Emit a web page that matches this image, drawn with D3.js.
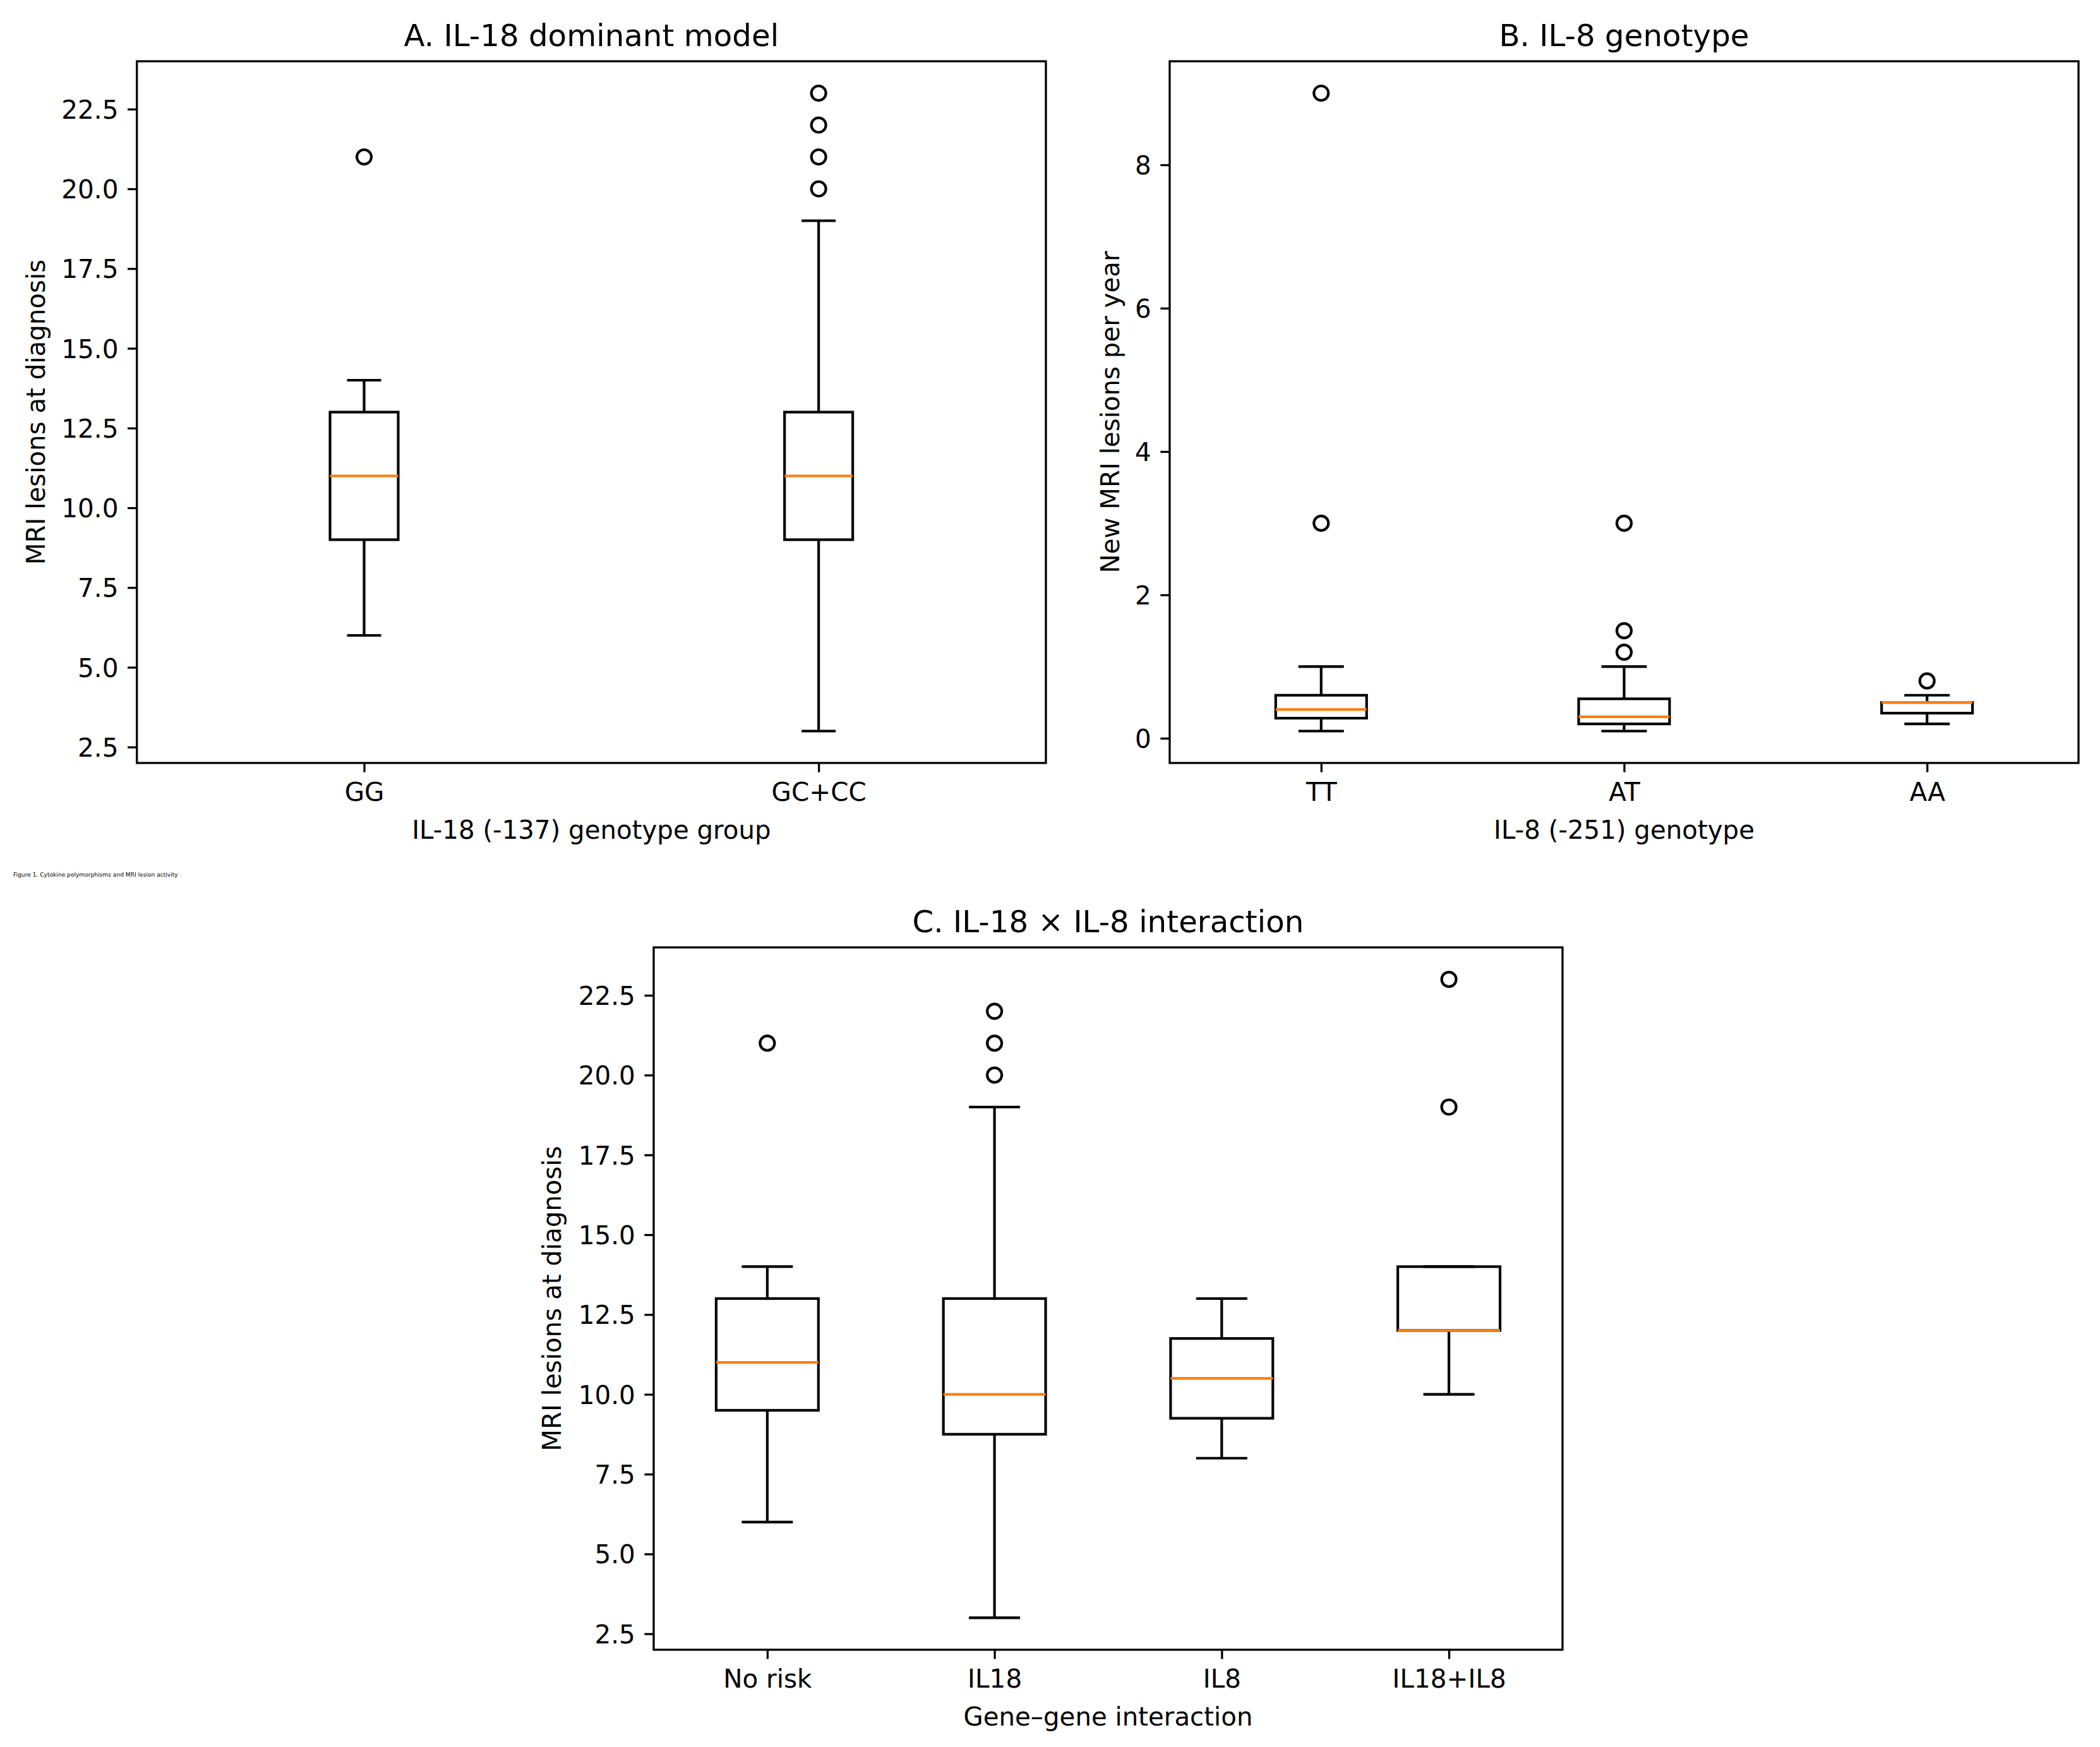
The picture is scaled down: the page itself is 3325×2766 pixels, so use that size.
<!DOCTYPE html>
<html>
<head>
<meta charset="utf-8">
<script src="https://cdn.jsdelivr.net/npm/d3@7"></script>
<style>
  html, body { margin: 0; padding: 0; background: #ffffff; }
  svg { display: block; }
</style>
</head>
<body>
<svg id="chart" width="3325" height="2766"></svg>
<script>
// ---------------- DATA ----------------
// Panel A: IL-18 dominant model
const aCategories   = ["GG", "GC+CC"];
const aWhiskerLow   = [6, 3];
const aQ1           = [9, 9];
const aMedian       = [11, 11];
const aQ3           = [13, 13];
const aWhiskerHigh  = [14, 19];
const aOutliers     = [[21], [20, 21, 22, 23]];
const aYTicks       = [2.5, 5.0, 7.5, 10.0, 12.5, 15.0, 17.5, 20.0, 22.5];

// Panel B: IL-8 genotype
const bCategories   = ["TT", "AT", "AA"];
const bWhiskerLow   = [0.1, 0.1, 0.2];
const bQ1           = [0.28, 0.2, 0.35];
const bMedian       = [0.4, 0.3, 0.5];
const bQ3           = [0.6, 0.55, 0.5];
const bWhiskerHigh  = [1.0, 1.0, 0.6];
const bOutliers     = [[3, 9], [1.2, 1.5, 3], [0.8]];
const bYTicks       = [0, 2, 4, 6, 8];

// Panel C: IL-18 x IL-8 interaction
const cCategories   = ["No risk", "IL18", "IL8", "IL18+IL8"];
const cWhiskerLow   = [6, 3, 8, 10];
const cQ1           = [9.5, 8.75, 9.25, 12];
const cMedian       = [11, 10, 10.5, 12];
const cQ3           = [13, 13, 11.75, 14];
const cWhiskerHigh  = [14, 19, 13, 14];
const cOutliers     = [[21], [20, 21, 22], [], [19, 23]];
const cYTicks       = [2.5, 5.0, 7.5, 10.0, 12.5, 15.0, 17.5, 20.0, 22.5];

const footnote = "Figure 1. Cytokine polymorphisms and MRI lesion activity";

// ---------------- STYLE / LAYOUT ----------------
const FONT = "'DejaVu Sans', 'Liberation Sans', sans-serif";
const TICK_FS = 40.5, LABEL_FS = 40.3, TITLE_FS = 48.3;
const SPINE_W = 3.3, LINE_W = 4.17;
const MEDIAN_COLOR = "#ff7f0e";

const svg = d3.select("#chart");
svg.append("rect").attr("width", 3325).attr("height", 2766).attr("fill", "#ffffff");

function drawPanel(cfg) {
  const { frame } = cfg;
  const g = svg.append("g");

  const stats = cfg.categories.map((c, i) => ({
    cat: c, low: cfg.low[i], q1: cfg.q1[i], med: cfg.med[i], q3: cfg.q3[i],
    high: cfg.high[i], out: cfg.out[i]
  }));

  // y-domain like matplotlib auto-scaling (5% margins)
  const allVals = stats.flatMap(s => [s.low, s.high, ...s.out]);
  const mn = d3.min(allVals), mx = d3.max(allVals), pad = (mx - mn) * 0.05;

  const x = d3.scalePoint().domain(cfg.categories).range([frame.l, frame.r]).padding(0.5);
  const y = d3.scaleLinear().domain([mn - pad, mx + pad]).range([frame.b, frame.t]);

  const boxW = x.step() * cfg.boxFrac;
  const capW = boxW / 2;

  const box = g.selectAll("g.box").data(stats).join("g").attr("class", "box");

  // whiskers
  box.append("line")
    .attr("x1", d => x(d.cat)).attr("x2", d => x(d.cat))
    .attr("y1", d => y(d.q1)).attr("y2", d => y(d.low))
    .attr("stroke", "#000").attr("stroke-width", LINE_W);
  box.append("line")
    .attr("x1", d => x(d.cat)).attr("x2", d => x(d.cat))
    .attr("y1", d => y(d.q3)).attr("y2", d => y(d.high))
    .attr("stroke", "#000").attr("stroke-width", LINE_W);
  // caps
  box.append("line")
    .attr("x1", d => x(d.cat) - capW / 2).attr("x2", d => x(d.cat) + capW / 2)
    .attr("y1", d => y(d.low)).attr("y2", d => y(d.low))
    .attr("stroke", "#000").attr("stroke-width", LINE_W);
  box.append("line")
    .attr("x1", d => x(d.cat) - capW / 2).attr("x2", d => x(d.cat) + capW / 2)
    .attr("y1", d => y(d.high)).attr("y2", d => y(d.high))
    .attr("stroke", "#000").attr("stroke-width", LINE_W);
  // box
  box.append("rect")
    .attr("x", d => x(d.cat) - boxW / 2).attr("width", boxW)
    .attr("y", d => y(d.q3)).attr("height", d => Math.max(0, y(d.q1) - y(d.q3)))
    .attr("fill", "none").attr("stroke", "#000").attr("stroke-width", LINE_W);
  // median
  box.append("line")
    .attr("x1", d => x(d.cat) - boxW / 2).attr("x2", d => x(d.cat) + boxW / 2)
    .attr("y1", d => y(d.med)).attr("y2", d => y(d.med))
    .attr("stroke", MEDIAN_COLOR).attr("stroke-width", LINE_W);
  // outliers
  box.selectAll("circle").data(d => d.out.map(v => ({ cat: d.cat, v }))).join("circle")
    .attr("cx", d => x(d.cat)).attr("cy", d => y(d.v)).attr("r", 11.5)
    .attr("fill", "none").attr("stroke", "#000").attr("stroke-width", LINE_W);

  // axes
  const xAxis = g.append("g").attr("transform", `translate(0,${frame.b})`)
    .call(d3.axisBottom(x).tickSize(14.6).tickPadding(16.5));
  const yAxis = g.append("g").attr("transform", `translate(${frame.l},0)`)
    .call(d3.axisLeft(y).tickValues(cfg.yTicks).tickFormat(cfg.yFormat).tickSize(14.6).tickPadding(14.6));
  [xAxis, yAxis].forEach(ax => {
    ax.select(".domain").remove();
    ax.attr("font-family", FONT).attr("font-size", TICK_FS);
    ax.selectAll(".tick line").attr("stroke", "#000").attr("stroke-width", SPINE_W);
    ax.selectAll(".tick text").attr("fill", "#000");
  });
  yAxis.selectAll(".tick text").attr("dy", "0.36em");

  // frame (spines)
  g.append("rect")
    .attr("x", frame.l).attr("y", frame.t)
    .attr("width", frame.r - frame.l).attr("height", frame.b - frame.t)
    .attr("fill", "none").attr("stroke", "#000").attr("stroke-width", SPINE_W);

  const cx = (frame.l + frame.r) / 2, cy = (frame.t + frame.b) / 2;
  // title
  g.append("text").attr("x", cx).attr("y", frame.t - 24)
    .attr("text-anchor", "middle").attr("font-family", FONT).attr("font-size", TITLE_FS)
    .attr("fill", "#000").text(cfg.title);
  // x label
  g.append("text").attr("x", cx).attr("y", frame.b + 120)
    .attr("text-anchor", "middle").attr("font-family", FONT).attr("font-size", LABEL_FS)
    .attr("fill", "#000").text(cfg.xLabel);
  // y label
  g.append("text").attr("transform", `translate(${cfg.yLabelX},${cy}) rotate(-90)`)
    .attr("text-anchor", "middle").attr("font-family", FONT).attr("font-size", LABEL_FS)
    .attr("fill", "#000").text(cfg.yLabel);
}

drawPanel({
  categories: aCategories, low: aWhiskerLow, q1: aQ1, med: aMedian, q3: aQ3,
  high: aWhiskerHigh, out: aOutliers, yTicks: aYTicks, yFormat: d3.format(".1f"),
  boxFrac: 0.15,
  frame: { l: 216.7, r: 1656, t: 97, b: 1208 },
  title: "A. IL-18 dominant model",
  xLabel: "IL-18 (-137) genotype group",
  yLabel: "MRI lesions at diagnosis", yLabelX: 71
});

drawPanel({
  categories: bCategories, low: bWhiskerLow, q1: bQ1, med: bMedian, q3: bQ3,
  high: bWhiskerHigh, out: bOutliers, yTicks: bYTicks, yFormat: d3.format("d"),
  boxFrac: 0.3,
  frame: { l: 1852, r: 3291, t: 97, b: 1208 },
  title: "B. IL-8 genotype",
  xLabel: "IL-8 (-251) genotype",
  yLabel: "New MRI lesions per year", yLabelX: 1772
});

drawPanel({
  categories: cCategories, low: cWhiskerLow, q1: cQ1, med: cMedian, q3: cQ3,
  high: cWhiskerHigh, out: cOutliers, yTicks: cYTicks, yFormat: d3.format(".1f"),
  boxFrac: 0.45,
  frame: { l: 1035, r: 2474, t: 1500, b: 2612 },
  title: "C. IL-18 \u00d7 IL-8 interaction",
  xLabel: "Gene\u2013gene interaction",
  yLabel: "MRI lesions at diagnosis", yLabelX: 888
});

// tiny footnote
svg.append("text").attr("x", 21).attr("y", 1388)
  .attr("font-family", FONT).attr("font-size", 9.1).attr("fill", "#000")
  .text(footnote);
</script>
</body>
</html>
